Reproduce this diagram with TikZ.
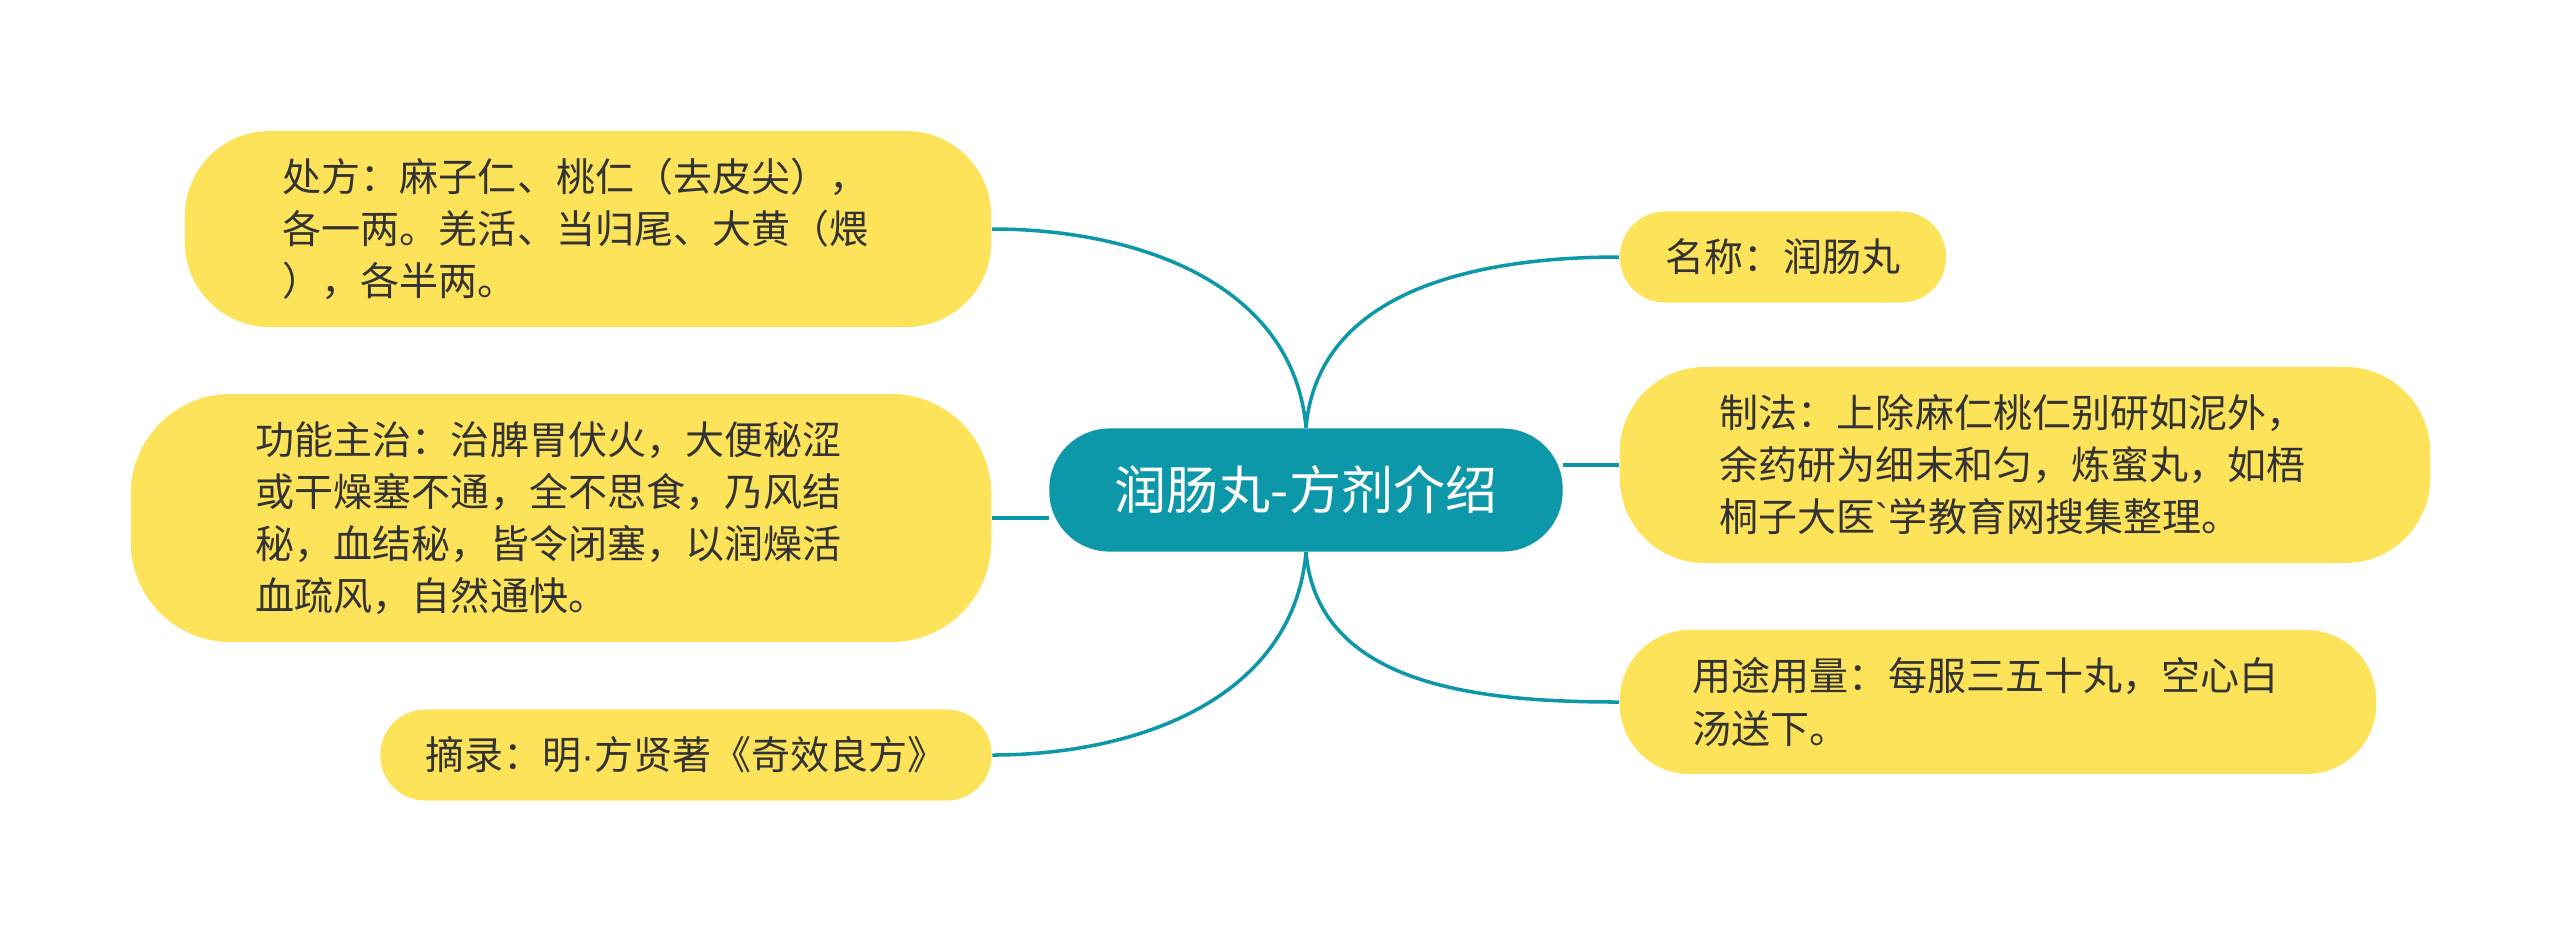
\documentclass[tikz,border=0pt]{standalone}
\usepackage{fontspec}
\setmainfont{Noto Sans CJK SC}[Ligatures=TeXOff]
\newfontfamily\latinfont{Liberation Sans}
\usetikzlibrary{backgrounds}

\definecolor{leafyellow}{HTML}{FDE35A}
\definecolor{rootteal}{HTML}{0C98A8}
\definecolor{inkgrey}{HTML}{333333}

\begin{document}
\begin{tikzpicture}[
  x=0.01cm, y=-0.01cm,
  root/.style={
    fill=rootteal,
    text=white,
    font=\fontsize{14.8pt}{18pt}\selectfont,
    inner sep=0pt,
    minimum width=5.13cm,
    minimum height=1.23cm,
    rounded corners=0.6cm
  },
  leaf/.style={
    fill=leafyellow,
    text=inkgrey,
    align=left,
    font=\fontsize{11.1pt}{14.8pt}\selectfont,
    inner sep=0pt
  },
  para/.style={
    leaf,
    text width=6.1cm
  },
  branch/.style={
    draw=rootteal,
    line width=1pt
  }
]
  \useasboundingbox (0,0) rectangle (2560,932);

  % Centre topic.
  \node[root] (root) at (1306,490) {润肠丸-方剂介绍};

  % Left branches.
  \node[para, minimum width=8.06cm, minimum height=1.96cm, rounded corners=0.85cm]
    (chufang) at (588,229)
    {处方：麻子仁、桃仁（去皮尖），\\各一两。羌活、当归尾、大黄（煨\\），各半两。};
  \node[para, minimum width=8.60cm, minimum height=2.48cm, rounded corners=1.0cm]
    (gongneng) at (561,518)
    {功能主治：治脾胃伏火，大便秘涩\\或干燥塞不通，全不思食，乃风结\\秘，血结秘，皆令闭塞，以润燥活\\血疏风，自然通快。};
  \node[leaf, minimum width=6.11cm, minimum height=0.91cm, rounded corners=0.45cm]
    (zhailu) at (686,755)
    {摘录：明{\latinfont ·}方贤著《奇效良方》};

  % Right branches.
  \node[leaf, minimum width=3.26cm, minimum height=0.91cm, rounded corners=0.45cm]
    (mingcheng) at (1783,257)
    {名称：润肠丸};
  \node[para, minimum width=8.10cm, minimum height=1.96cm, rounded corners=0.85cm]
    (zhifa) at (2025,465)
    {制法：上除麻仁桃仁别研如泥外，\\余药研为细末和匀，炼蜜丸，如梧\\桐子大医{\latinfont\char96}学教育网搜集整理。};
  \node[para, minimum width=7.56cm, minimum height=1.44cm, rounded corners=0.7cm]
    (yongtu) at (1998,702)
    {用途用量：每服三五十丸，空心白\\汤送下。};

  % Connectors, kept behind the nodes.
  \begin{pgfonlayer}{background}
    \draw[branch] (root.north) to[out=95, in=0] (chufang.east);
    \draw[branch] (gongneng.east) -- (gongneng.east -| root.west);
    \draw[branch] (root.south) to[out=-95, in=0] (zhailu.east);
    \draw[branch] (root.north) to[out=85, in=180] (mingcheng.west);
    \draw[branch] (zhifa.west) -- (zhifa.west -| root.east);
    \draw[branch] (root.south) to[out=-85, in=180] (yongtu.west);
  \end{pgfonlayer}

\end{tikzpicture}
\end{document}
